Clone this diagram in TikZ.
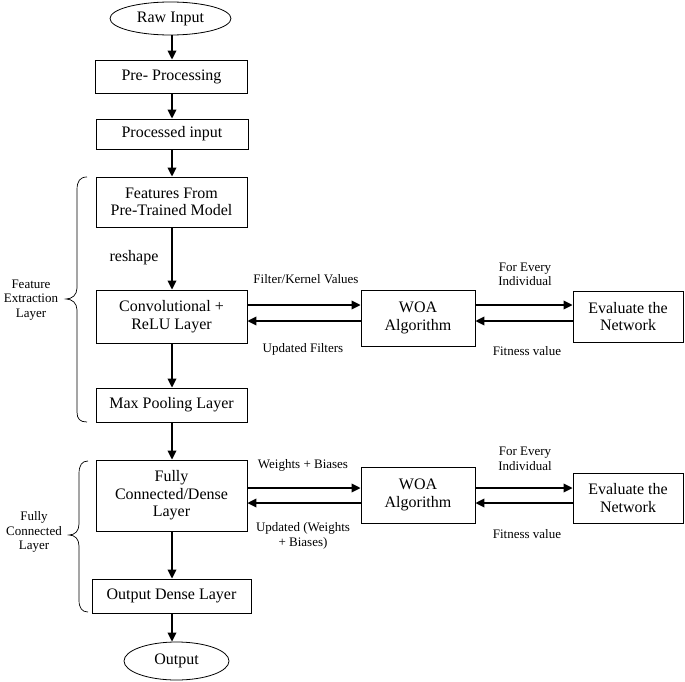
\documentclass[tikz,border=0pt]{standalone}
\usepackage{fontspec}
\setmainfont{Liberation Serif}
\usetikzlibrary{arrows.meta,shapes.geometric}
\begin{document}
\begin{tikzpicture}[x=1pt,y=-1pt,
  box/.style={draw,line width=0.8pt,rectangle,inner sep=0pt,align=center,font=\fontsize{16}{17.5}\selectfont},
  oval/.style={draw,line width=0.8pt,ellipse,inner sep=0pt,font=\fontsize{16}{17.5}\selectfont},
  arr/.style={line width=1.8pt,-{Triangle[length=9pt,width=8.5pt]}},
  lbl/.style={inner sep=0pt,align=center,font=\fontsize{13}{14.5}\selectfont},
  brc/.style={line width=0.7pt}]
\useasboundingbox (0,0) rectangle (685,682);
% main column
\node[oval,minimum width=121pt,minimum height=33pt] (raw) at (170.5,18.5) {Raw Input};
\node[box,minimum width=152pt,minimum height=33pt] (pre) at (171.5,76.5) {Pre- Processing};
\node[box,minimum width=152pt,minimum height=30pt] (proc) at (172,134) {Processed input};
\node[box,minimum width=151pt,minimum height=50pt] (feat) at (171.5,202) {Features From\\Pre-Trained Model};
\node[box,minimum width=151pt,minimum height=53pt] (conv) at (171.5,316.5) {Convolutional +\\ReLU Layer};
\node[box,minimum width=151pt,minimum height=34pt] (pool) at (171.5,405) {Max Pooling Layer};
\node[box,minimum width=151pt,minimum height=71pt] (fc) at (171.5,495.5) {Fully\\Connected/Dense\\Layer};
\node[box,minimum width=159pt,minimum height=34pt] (outd) at (171.5,596) {Output Dense Layer};
\node[oval,minimum width=105pt,minimum height=38pt] (out) at (176.5,661) {Output};
% right side
\node[box,minimum width=114pt,minimum height=56pt] (woa1) at (418,318) {WOA\\Algorithm};
\node[box,minimum width=110pt,minimum height=51pt] (eval1) at (628,316.5) {Evaluate the\\Network};
\node[box,minimum width=114pt,minimum height=56pt] (woa2) at (418,495) {WOA\\Algorithm};
\node[box,minimum width=110pt,minimum height=50pt] (eval2) at (628,498) {Evaluate the\\Network};
% vertical arrows
\coordinate (cx) at (172,0);
\draw[arr] (raw.south -| cx) -- (pre.north -| cx);
\draw[arr] (pre.south -| cx) -- (proc.north -| cx);
\draw[arr] (proc.south -| cx) -- (feat.north -| cx);
\draw[arr] (feat.south -| cx) -- (conv.north -| cx);
\draw[arr] (conv.south -| cx) -- (pool.north -| cx);
\draw[arr] (pool.south -| cx) -- (fc.north -| cx);
\draw[arr] (fc.south -| cx) -- (outd.north -| cx);
\draw[arr] (outd.south -| cx) -- (out.north -| cx);
\node[inner sep=0pt,font=\fontsize{16}{17.5}\selectfont] (resh) at (134,258) {reshape};
% horizontal arrows
\coordinate (ya) at (0,305);
\coordinate (yb) at (0,321);
\coordinate (yc) at (0,488);
\coordinate (yd) at (0,503);
\draw[arr] (conv.east |- ya) -- (woa1.west |- ya);
\draw[arr] (woa1.west |- yb) -- (conv.east |- yb);
\draw[arr] (woa1.east |- ya) -- (eval1.west |- ya);
\draw[arr] (eval1.west |- yb) -- (woa1.east |- yb);
\draw[arr] (fc.east |- yc) -- (woa2.west |- yc);
\draw[arr] (woa2.west |- yd) -- (fc.east |- yd);
\draw[arr] (woa2.east |- yc) -- (eval2.west |- yc);
\draw[arr] (eval2.west |- yd) -- (woa2.east |- yd);
% labels
\node[lbl] (l1) at (306,279) {Filter/Kernel Values};
\node[lbl] (l2) at (303,349) {Updated Filters};
\node[lbl] (l3) at (525,274.5) {For Every\\Individual};
\node[lbl] (l4) at (527,351) {Fitness value};
\node[lbl] (l5) at (303,465) {Weights + Biases};
\node[lbl] (l6) at (303,536) {Updated (Weights\\+ Biases)};
\node[lbl] (l7) at (525,459) {For Every\\Individual};
\node[lbl] (l8) at (527,534) {Fitness value};
% braces
\draw[brc] (87,177) .. controls (80,177) and (77,181) .. (77,190) -- (77,288)
  .. controls (77,295) and (72,299) .. (66,299)
  .. controls (72,299) and (77,303) .. (77,310) -- (77,412)
  .. controls (77,419) and (80,422) .. (87,422);
\draw[brc] (88,461) .. controls (82,461) and (79,465) .. (79,474) -- (79,524)
  .. controls (79,531) and (75,535) .. (69,535)
  .. controls (75,535) and (79,539) .. (79,546) -- (79,600)
  .. controls (79,608) and (82,612) .. (88,612);
\node[lbl] (b1) at (31,300) {Feature\\Extraction\\Layer};
\node[lbl] (b2) at (34,532) {Fully\\Connected\\Layer};
\end{tikzpicture}
\end{document}
